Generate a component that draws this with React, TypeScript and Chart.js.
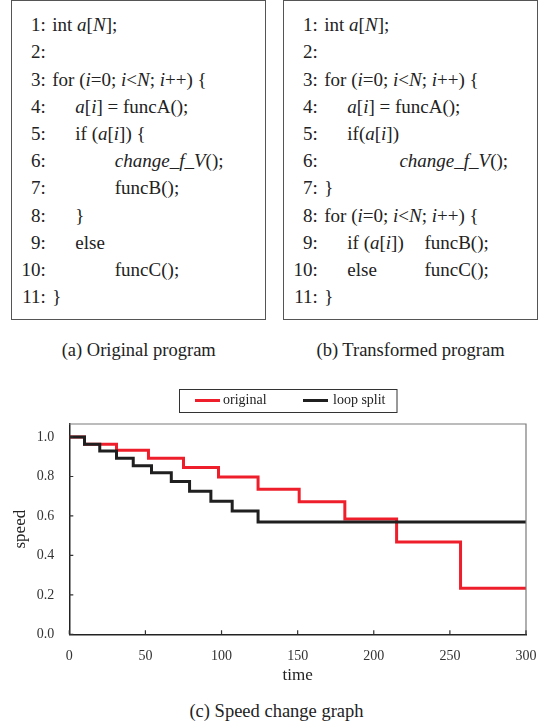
import React, { useEffect, useRef } from "react";
import { Chart, registerables } from "chart.js";

Chart.register(...registerables);

// ---- data ----
const TIME_ORIGINAL = [0, 10, 31, 52, 75, 98, 124, 151, 181, 215, 257, 300];
const SPEED_ORIGINAL = [1.0, 0.963, 0.933, 0.892, 0.845, 0.797, 0.735, 0.672, 0.585, 0.468, 0.233, 0.233];
const TIME_SPLIT = [0, 10, 20, 31, 42, 54, 67, 79, 93, 107, 124, 300];
const SPEED_SPLIT = [1.0, 0.963, 0.929, 0.892, 0.855, 0.819, 0.774, 0.725, 0.674, 0.625, 0.569, 0.569];
const SERIES_LABELS = ["original", "loop split"];
const X_TICKS = [0, 50, 100, 150, 200, 250, 300];
const Y_TICKS = [0, 0.2, 0.4, 0.6, 0.8, 1.0];
const X_TITLE = "time";
const Y_TITLE = "speed";

const SERIF = "'Liberation Serif', 'Times New Roman', serif";
const RED = "#ee1f2b";
const BLACK = "#1f1f1f";

const toPoints = (xs: number[], ys: number[]) => xs.map((x, i) => ({ x, y: ys[i] }));

const framePlugin = {
  id: "frame",
  afterDatasetsDraw(chart: any) {
    const { ctx, chartArea, scales } = chart;
    const { left, right, top, bottom } = chartArea;
    ctx.save();
    ctx.strokeStyle = "#7a7a7a";
    ctx.lineWidth = 1.2;
    ctx.beginPath();
    ctx.moveTo(left, top);
    ctx.lineTo(right, top);
    ctx.lineTo(right, bottom);
    ctx.stroke();
    ctx.strokeStyle = "#333";
    ctx.lineWidth = 1.2;
    ctx.beginPath();
    scales.x.ticks.forEach((t: any) => {
      const px = scales.x.getPixelForValue(t.value);
      ctx.moveTo(px, bottom);
      ctx.lineTo(px, bottom - 4);
    });
    scales.y.ticks.forEach((t: any) => {
      const py = scales.y.getPixelForValue(t.value);
      ctx.moveTo(left, py);
      ctx.lineTo(left + 4, py);
    });
    ctx.stroke();
    ctx.restore();
  },
};

const legendPlugin = {
  id: "boxLegend",
  afterDraw(chart: any) {
    const { ctx } = chart;
    const datasets = chart.data.datasets;
    const order = SERIES_LABELS.map((l) => datasets.findIndex((d: any) => d.label === l));
    const lineStart = [195, 303];
    const textStart = [223, 333];
    const cy = 20.5;
    ctx.save();
    ctx.strokeStyle = "#333";
    ctx.lineWidth = 1;
    ctx.strokeRect(179.5, 9.5, 217.5, 23);
    ctx.font = `14px ${SERIF}`;
    ctx.textBaseline = "middle";
    ctx.textAlign = "left";
    order.forEach((di: number, k: number) => {
      const ds = datasets[di];
      ctx.strokeStyle = ds.borderColor;
      ctx.lineWidth = 3;
      ctx.beginPath();
      ctx.moveTo(lineStart[k], cy);
      ctx.lineTo(lineStart[k] + 25, cy);
      ctx.stroke();
      ctx.fillStyle = "#222";
      ctx.fillText(ds.label, textStart[k], cy);
    });
    ctx.restore();
  },
};

function SpeedChart() {
  const ref = useRef<HTMLCanvasElement | null>(null);
  useEffect(() => {
    if (!ref.current) return;
    const chart = new Chart(ref.current, {
      type: "line",
      data: {
        datasets: [
          {
            label: SERIES_LABELS[0],
            data: toPoints(TIME_ORIGINAL, SPEED_ORIGINAL),
            borderColor: RED,
            backgroundColor: RED,
            borderWidth: 3,
            pointRadius: 0,
            stepped: true,
            order: 1,
          },
          {
            label: SERIES_LABELS[1],
            data: toPoints(TIME_SPLIT, SPEED_SPLIT),
            borderColor: BLACK,
            backgroundColor: BLACK,
            borderWidth: 3,
            pointRadius: 0,
            stepped: true,
            order: 0,
          },
        ],
      },
      options: {
        animation: false,
        responsive: false,
        maintainAspectRatio: false,
        layout: { padding: { top: 44, right: 17, left: 0, bottom: 0 } },
        plugins: { legend: { display: false }, tooltip: { enabled: false } },
        scales: {
          x: {
            type: "linear",
            min: 0,
            max: 300,
            afterBuildTicks: (s: any) => {
              s.ticks = X_TICKS.map((v) => ({ value: v }));
            },
            afterFit: (s: any) => {
              s.height = 55.7;
              s.paddingLeft = 0;
              s.paddingRight = 0;
            },
            grid: { display: false, drawTicks: false },
            border: { display: true, color: "#222", width: 1.5 },
            ticks: {
              padding: 14,
              color: "#333",
              font: { family: SERIF, size: 14 },
              maxRotation: 0,
              autoSkip: false,
            },
            title: {
              display: true,
              text: X_TITLE,
              color: "#222",
              font: { family: SERIF, size: 17 },
              padding: { top: 0, bottom: 3.8 },
            },
          },
          y: {
            type: "linear",
            min: 0,
            max: 1.066,
            afterBuildTicks: (s: any) => {
              s.ticks = Y_TICKS.map((v) => ({ value: v }));
            },
            afterFit: (s: any) => {
              s.width = 69.3;
              s.paddingTop = 0;
              s.paddingBottom = 0;
            },
            grid: { display: false, drawTicks: false },
            border: { display: true, color: "#222", width: 1.5 },
            ticks: {
              padding: 15,
              color: "#333",
              font: { family: SERIF, size: 14 },
              callback: (v: any) => Number(v).toFixed(1),
            },
            title: {
              display: true,
              text: Y_TITLE,
              color: "#222",
              font: { family: SERIF, size: 17 },
              padding: { top: 10.8, bottom: 0 },
            },
          },
        },
      },
      plugins: [framePlugin, legendPlugin],
    } as any);
    return () => chart.destroy();
  }, []);
  return (
    <canvas
      ref={ref}
      width={543}
      height={310}
      style={{ position: "absolute", left: 0, top: 380, width: 543, height: 310 }}
    />
  );
}

type Part = { x: number; c: React.ReactNode };
type Line = { n: number; parts: Part[] };

const A = 41.5;
const B = 64.5;
const C = 104;

const forLine = (
  <>
    for (<i>i</i>=0; <i>i</i>&lt;<i>N</i>; <i>i</i>++) {"{"}
  </>
);
const ai = (
  <>
    <i>a</i>[<i>i</i>]
  </>
);

const LEFT_LINES: Line[] = [
  { n: 1, parts: [{ x: A, c: <>int <i>a</i>[<i>N</i>];</> }] },
  { n: 2, parts: [] },
  { n: 3, parts: [{ x: A, c: forLine }] },
  { n: 4, parts: [{ x: B, c: <>{ai} = funcA();</> }] },
  { n: 5, parts: [{ x: B, c: <>if ({ai}) {"{"}</> }] },
  { n: 6, parts: [{ x: C, c: <><i>change_f_V</i>();</> }] },
  { n: 7, parts: [{ x: C, c: <>funcB();</> }] },
  { n: 8, parts: [{ x: B, c: <>{"}"}</> }] },
  { n: 9, parts: [{ x: B, c: <>else</> }] },
  { n: 10, parts: [{ x: C, c: <>funcC();</> }] },
  { n: 11, parts: [{ x: A, c: <>{"}"}</> }] },
];

const RIGHT_LINES: Line[] = [
  { n: 1, parts: [{ x: A, c: <>int <i>a</i>[<i>N</i>];</> }] },
  { n: 2, parts: [] },
  { n: 3, parts: [{ x: A, c: forLine }] },
  { n: 4, parts: [{ x: B, c: <>{ai} = funcA();</> }] },
  { n: 5, parts: [{ x: B, c: <>if({ai})</> }] },
  { n: 6, parts: [{ x: 116.6, c: <><i>change_f_V</i>();</> }] },
  { n: 7, parts: [{ x: A, c: <>{"}"}</> }] },
  { n: 8, parts: [{ x: A, c: forLine }] },
  { n: 9, parts: [{ x: B, c: <>if ({ai})</> }, { x: 141.6, c: <>funcB();</> }] },
  { n: 10, parts: [{ x: B, c: <>else</> }, { x: 141.6, c: <>funcC();</> }] },
  { n: 11, parts: [{ x: A, c: <>{"}"}</> }] },
];

function CodeBox({ left, lines }: { left: number; lines: Line[] }) {
  const LH = 27.2;
  const top0 = 11.4;
  return (
    <div
      style={{
        position: "absolute",
        left,
        top: 0,
        width: 255,
        height: 320,
        boxSizing: "border-box",
        border: "1.2px solid #555",
      }}
    >
      {lines.map((ln, i) => (
        <div key={i} style={{ position: "absolute", left: 0, top: top0 + i * LH - 1.2, height: LH, width: 253 }}>
          <span
            style={{
              position: "absolute",
              right: 253 - 35 + 1.2,
              top: 0,
              lineHeight: `${LH}px`,
              whiteSpace: "pre",
            }}
          >
            {ln.n}:
          </span>
          {ln.parts.map((p, k) => (
            <span
              key={k}
              style={{ position: "absolute", left: p.x - 1.2, top: 0, lineHeight: `${LH}px`, whiteSpace: "pre" }}
            >
              {p.c}
            </span>
          ))}
        </div>
      ))}
    </div>
  );
}

export default function App() {
  return (
    <div
      style={{
        position: "absolute",
        left: 0,
        top: 0,
        width: 543,
        height: 724,
        background: "#fff",
        fontFamily: SERIF,
        color: "#222",
        fontSize: 19,
        overflow: "hidden",
      }}
    >
      <CodeBox left={11} lines={LEFT_LINES} />
      <CodeBox left={283} lines={RIGHT_LINES} />
      <div style={{ position: "absolute", left: 0, width: 277.4, top: 338, textAlign: "center", fontSize: 18.5, lineHeight: "24px" }}>
        (a) Original program
      </div>
      <div style={{ position: "absolute", left: 283, width: 255, top: 338, textAlign: "center", fontSize: 18.5, lineHeight: "24px" }}>
        (b) Transformed program
      </div>
      <SpeedChart />
      <div style={{ position: "absolute", left: 0, width: 553, top: 699, textAlign: "center", fontSize: 18.5, lineHeight: "24px" }}>
        (c) Speed change graph
      </div>
    </div>
  );
}
